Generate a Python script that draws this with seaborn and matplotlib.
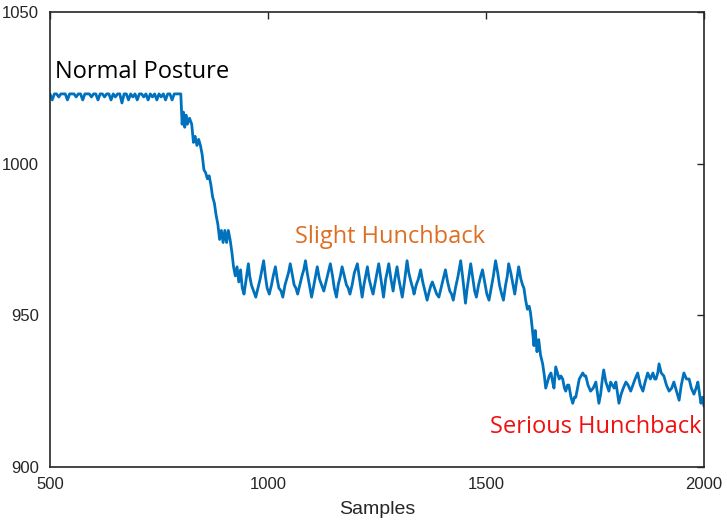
import numpy as np
import pandas as pd
import matplotlib
matplotlib.use('Agg')
import matplotlib.pyplot as plt
import seaborn as sns

# Sensor reading vs. sample index
samples = [
    500, 505, 510, 515, 520, 525, 530, 535, 540, 545, 550, 555, 560, 565, 570, 575,
    580, 585, 590, 595, 600, 605, 610, 615, 620, 625, 630, 635, 640, 645, 650, 655,
    660, 665, 670, 675, 680, 685, 690, 695, 700, 705, 710, 715, 720, 725, 730, 735,
    740, 745, 750, 755, 760, 765, 770, 775, 780, 785, 790, 795, 800,
    803, 806, 809, 812, 815, 820, 825, 829, 833, 837, 841, 845, 849, 853, 857, 861,
    865, 869, 873, 877, 881, 885, 889, 893, 897, 901, 905, 909, 913, 917, 921, 925,
    929, 933, 937, 941, 945,
    950, 955, 958, 962, 967, 972, 977, 982, 986, 990, 994, 998, 1003, 1008, 1012, 1017,
    1021, 1025, 1030, 1034, 1039, 1043, 1047, 1051, 1055, 1060, 1064, 1068, 1073, 1078,
    1082, 1086, 1090, 1095, 1100, 1104, 1109, 1113, 1118, 1123, 1128, 1133, 1138, 1143,
    1148, 1152, 1157, 1161, 1166, 1170, 1175, 1180, 1184, 1188, 1193, 1198, 1205, 1209,
    1213, 1216, 1220, 1224, 1228, 1232, 1237, 1241, 1246, 1250, 1254, 1258, 1262, 1265,
    1270, 1273, 1277, 1282, 1287, 1291, 1296, 1300, 1304, 1308, 1313, 1319, 1323, 1328,
    1332, 1335, 1340, 1345, 1350, 1355, 1360, 1365, 1370, 1374, 1377, 1382, 1387, 1392,
    1397, 1402, 1407, 1412, 1417, 1421, 1425, 1430, 1436, 1442, 1447, 1453, 1457, 1461,
    1465, 1470, 1474, 1478, 1483, 1488, 1492, 1497, 1502, 1507, 1512, 1517, 1522, 1527,
    1531, 1536, 1540, 1545, 1549, 1552, 1557, 1562, 1566, 1571, 1575, 1580, 1584, 1587,
    1591, 1595, 1599, 1602, 1606, 1610, 1613, 1617, 1621, 1625, 1630, 1634, 1637, 1641,
    1645, 1649, 1653, 1656, 1660, 1664, 1668, 1672, 1676, 1680, 1683, 1687, 1690, 1695,
    1699, 1703, 1706, 1710, 1714, 1718, 1722, 1726, 1729, 1734, 1740, 1746, 1752, 1756,
    1759, 1763, 1767, 1770, 1775, 1782, 1786, 1790, 1794, 1798, 1802, 1805, 1810, 1815,
    1821, 1826, 1832, 1837, 1842, 1848, 1854, 1860, 1865, 1871, 1877, 1883, 1887, 1890,
    1894, 1897, 1902, 1908, 1914, 1920, 1926, 1931, 1937, 1943, 1948, 1954, 1960, 1966,
    1971, 1977, 1982, 1986, 1990, 1993, 1997, 2000,
]
readings = [
    1023, 1021, 1023, 1023, 1022, 1023, 1023, 1023, 1021, 1023, 1023, 1023, 1022, 1023, 1023, 1021,
    1023, 1023, 1023, 1022, 1023, 1023, 1021, 1023, 1023, 1022, 1023, 1023, 1021, 1023, 1022, 1023,
    1023, 1020, 1023, 1023, 1021, 1023, 1022, 1023, 1021, 1023, 1023, 1022, 1023, 1021, 1023, 1022,
    1023, 1021, 1023, 1022, 1023, 1021, 1023, 1023, 1021, 1023, 1023, 1023, 1023,
    1013, 1017, 1012, 1016, 1013, 1015, 1013, 1007, 1009, 1006, 1008, 1006, 1003, 998, 997, 995,
    996, 993, 989, 987, 983, 980, 975, 978, 974, 978, 974, 978, 975, 971, 966, 963,
    966, 961, 965, 959, 957,
    962, 967, 963, 960, 958, 956, 959, 962, 965, 968, 963, 959, 957, 960, 963, 966,
    962, 959, 958, 956, 960, 962, 964, 967, 964, 960, 959, 957, 960, 963,
    965, 968, 964, 960, 956, 959, 963, 966, 962, 960, 958, 961, 964, 967,
    963, 959, 956, 960, 963, 966, 963, 960, 959, 957, 960, 964, 967, 963,
    959, 956, 960, 963, 966, 962, 959, 957, 961, 964, 967, 963, 959, 956,
    962, 964, 967, 962, 958, 962, 966, 962, 959, 956, 961, 968, 964, 961,
    959, 957, 960, 962, 965, 961, 958, 955, 958, 960, 961, 959, 957, 956,
    959, 962, 965, 961, 958, 957, 955, 959, 963, 968, 962, 954, 959, 963,
    967, 962, 958, 956, 960, 963, 965, 961, 957, 955, 959, 963, 968, 964,
    960, 957, 955, 960, 963, 967, 964, 960, 957, 962, 966, 962, 960, 959,
    955, 952, 953, 951, 946, 940, 945, 938, 942, 937, 934, 930, 926, 928,
    930, 931, 928, 926, 933, 931, 929, 930, 929, 926, 925, 927, 927, 923,
    921, 923, 923, 926, 929, 930, 931, 930, 930, 927, 925, 926, 928, 924,
    921, 924, 929, 932, 928, 925, 928, 927, 926, 928, 924, 921, 924, 926,
    928, 927, 925, 927, 929, 931, 927, 925, 928, 931, 929, 931, 929, 929,
    931, 934, 931, 930, 927, 925, 926, 928, 925, 922, 927, 931, 929, 929,
    926, 924, 926, 928, 924, 921, 923, 920,
]

x_ticks = [500, 1000, 1500, 2000]
y_ticks = [900, 950, 1000, 1050]

df = pd.DataFrame({'Samples': samples, 'Reading': readings})

sns.set_style('white')
plt.rcParams['font.family'] = ['Liberation Sans', 'DejaVu Sans']

fig = plt.figure(figsize=(7.27, 5.24), dpi=100)
ax = fig.add_axes([0.0688, 0.1088, 0.8995, 0.8683])

sns.lineplot(data=df, x='Samples', y='Reading', ax=ax, color='#0072BD',
             linewidth=2.0, sort=False, estimator=None)

ax.set_xlim(500, 2000)
ax.set_ylim(900, 1050)
ax.set_xticks(x_ticks)
ax.set_yticks(y_ticks)
ax.set_xlabel('Samples', fontsize=14, color='#262626', labelpad=7)
ax.set_ylabel('')
ax.tick_params(direction='in', length=5, width=1, colors='#262626',
               labelsize=12, top=True, right=True)
ax.tick_params(axis='y', pad=8)
ax.tick_params(axis='x', pad=7)
for sp in ax.spines.values():
    sp.set_color('#262626')
    sp.set_linewidth(1.2)

# annotations
ax.text(511, 1030.2, 'Normal Posture', fontsize=17, color='black',
        family=['Open Sans'], ha='left', va='center')
ax.text(1063, 975.8, 'Slight Hunchback', fontsize=17, color='#DD6E22',
        family=['Open Sans'], ha='left', va='center')
ax.text(1995, 913.2, 'Serious Hunchback', fontsize=17, color='#F01010',
        family=['Open Sans'], ha='right', va='center')

plt.savefig('out.png', dpi=100)
